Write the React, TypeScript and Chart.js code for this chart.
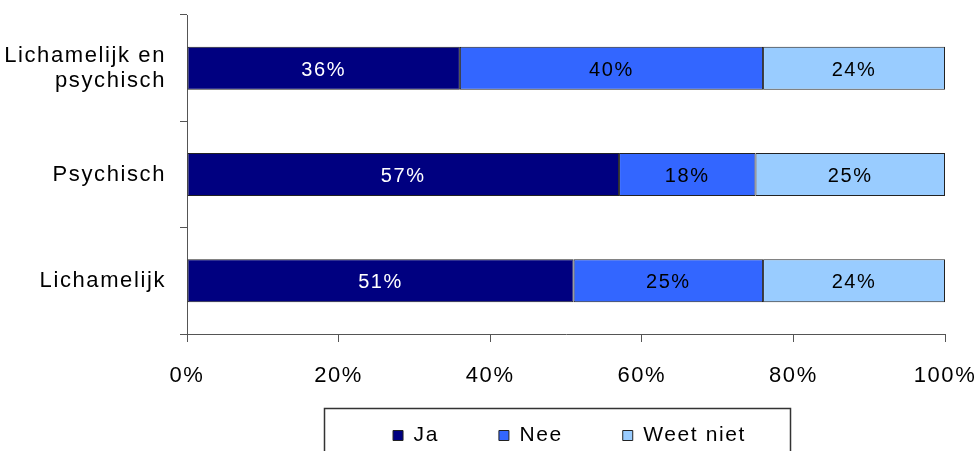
import React, { useEffect, useRef } from "react";
import { Chart, registerables } from "chart.js";

Chart.register(...registerables);

const categories: (string | string[])[] = [["Lichamelijk en", "psychisch"], "Psychisch", "Lichamelijk"];
const seriesNames = ["Ja", "Nee", "Weet niet"];
const jaValues = [36, 57, 51];
const neeValues = [40, 18, 25];
const weetNietValues = [24, 25, 24];
const xTickValues = [0, 20, 40, 60, 80, 100];

const seriesColors = ["#000080", "#3366FF", "#99CCFF"];
const labelColors = ["#ffffff", "#000000", "#000000"];
const FAMILY = "'Liberation Sans', Arial, sans-serif";
const SPACING = "1.6px";

const spacingPlugin = {
  id: "spacing",
  beforeUpdate(chart: any) {
    chart.ctx.letterSpacing = SPACING;
  },
  beforeLayout(chart: any) {
    chart.ctx.letterSpacing = SPACING;
  },
  beforeDraw(chart: any) {
    chart.ctx.letterSpacing = SPACING;
  },
};

const barLabelPlugin = {
  id: "barLabels",
  afterDatasetsDraw(chart: any) {
    const ctx = chart.ctx;
    ctx.save();
    ctx.font = `20px ${FAMILY}`;
    ctx.textAlign = "center";
    ctx.textBaseline = "middle";
    chart.data.datasets.forEach((ds: any, i: number) => {
      const meta = chart.getDatasetMeta(i);
      meta.data.forEach((bar: any, j: number) => {
        const p = bar.getCenterPoint();
        ctx.fillStyle = labelColors[i];
        ctx.fillText(`${ds.data[j]}%`, p.x, p.y + 2);
      });
    });
    ctx.restore();
  },
};

const legendShiftPlugin = {
  id: "legendShift",
  afterLayout(chart: any) {
    const lg = chart.legend;
    if (lg) {
      lg.left += 97;
      lg.right += 97;
      lg.top -= 25;
      lg.bottom -= 25;
    }
  },
};

const legendFramePlugin = {
  id: "legendFrame",
  afterDraw(chart: any) {
    const lg = chart.legend;
    if (!lg || !lg.legendHitBoxes || !lg.legendHitBoxes.length) return;
    const hb = lg.legendHitBoxes;
    const first = hb[0];
    const last = hb[hb.length - 1];
    const left = Math.round(first.left - 69);
    const right = Math.round(last.left + last.width + 44);
    const top = Math.round(first.top - 17);
    const ctx = chart.ctx;
    ctx.save();
    ctx.strokeStyle = "#333333";
    ctx.lineWidth = 1.5;
    ctx.strokeRect(left + 0.5, top + 0.5, right - left, chart.height - top + 10);
    ctx.restore();
  },
};

export default function App() {
  const canvasRef = useRef<HTMLCanvasElement | null>(null);

  useEffect(() => {
    if (!canvasRef.current) return;
    const values = [jaValues, neeValues, weetNietValues];
    const chart = new Chart(canvasRef.current, {
      type: "bar",
      data: {
        labels: categories,
        datasets: seriesNames.map((name, i) => ({
          label: name,
          data: values[i],
          backgroundColor: seriesColors[i],
          borderColor: "#222222",
          borderWidth: 1,
          borderSkipped: false,
          barPercentage: 0.405,
          categoryPercentage: 1,
        })),
      },
      options: {
        indexAxis: "y",
        responsive: false,
        animation: false,
        layout: { padding: { top: 15, right: 35, left: 0, bottom: -30 } },
        plugins: {
          tooltip: { enabled: false },
          title: { display: false },
          legend: {
            display: true,
            position: "bottom",
            labels: {
              boxWidth: 10,
              boxHeight: 10,
              padding: 60,
              color: "#000000",
              font: { size: 21, family: FAMILY },
            },
          },
        },
        scales: {
          x: {
            stacked: true,
            min: 0,
            max: 100,
            afterBuildTicks: (scale: any) => {
              scale.ticks = xTickValues.map((v) => ({ value: v }));
            },
            afterFit: (scale: any) => {
              scale.height = 56;
              scale.paddingLeft = 0;
              scale.paddingRight = 0;
            },
            ticks: {
              callback: (v: any) => `${v}%`,
              color: "#000000",
              font: { size: 22, family: FAMILY },
              padding: 21,
              maxRotation: 0,
              autoSkip: false,
            },
            grid: {
              drawOnChartArea: false,
              drawTicks: true,
              tickLength: 8,
              color: "#555555",
            },
            border: { color: "#555555", width: 1 },
          },
          y: {
            stacked: true,
            afterFit: (scale: any) => {
              scale.width = 187;
              scale.paddingTop = 0;
              scale.paddingBottom = 0;
            },
            ticks: {
              color: "#000000",
              font: { size: 22, family: FAMILY, lineHeight: 1.15 },
              padding: 14,
            },
            grid: {
              offset: true,
              drawOnChartArea: false,
              drawTicks: true,
              tickLength: 7,
              color: "#555555",
            },
            border: { color: "#555555", width: 1 },
          },
        },
      },
      plugins: [spacingPlugin, barLabelPlugin, legendShiftPlugin, legendFramePlugin],
    } as any);
    return () => chart.destroy();
  }, []);

  return (
    <div style={{ position: "fixed", left: 0, top: 0, width: 980, height: 451, background: "#ffffff" }}>
      <canvas ref={canvasRef} width={980} height={451} style={{ display: "block" }} />
    </div>
  );
}
